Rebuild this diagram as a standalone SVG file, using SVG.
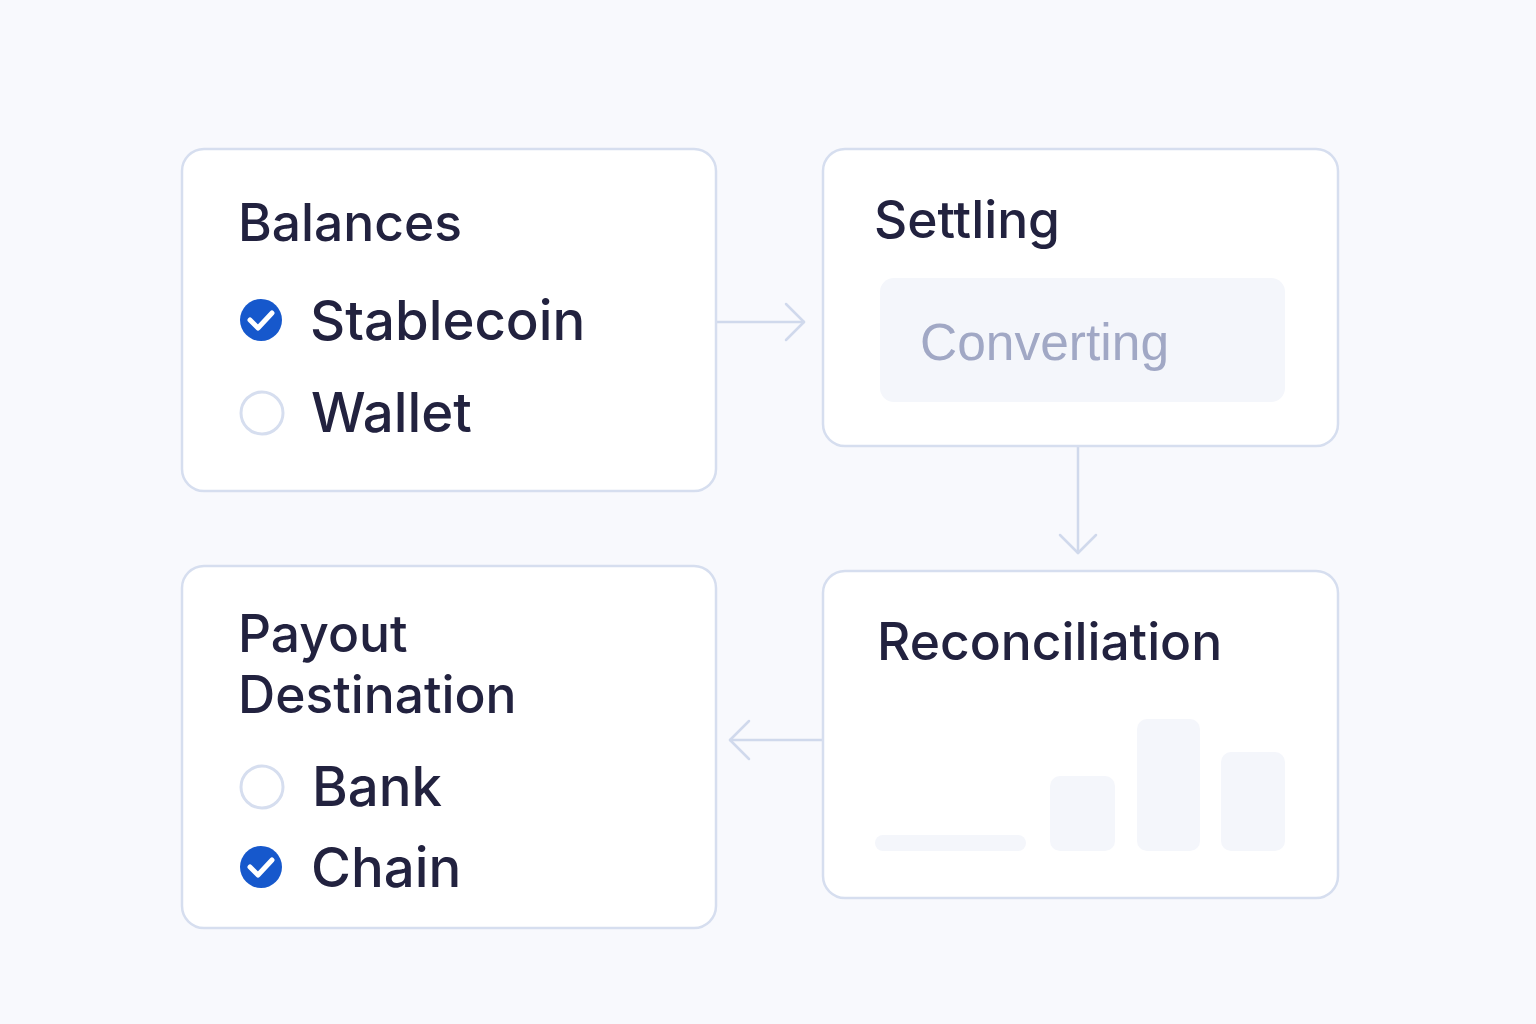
<svg xmlns="http://www.w3.org/2000/svg" width="1536" height="1024" viewBox="0 0 1536 1024">
<defs>
<style>
.card{fill:#ffffff;stroke:#d6deef;stroke-width:2.5}
.title{font-family:Inter,"Noto Sans","Liberation Sans",sans-serif;font-size:51.5px;font-weight:500;fill:#22223f}
.opt{font-family:Inter,"Noto Sans","Liberation Sans",sans-serif;font-size:54.5px;font-weight:500;fill:#22223f}
.muted{font-family:"Liberation Sans",Arial,sans-serif;font-size:51.5px;font-weight:400;fill:#a1a8c5}
.on{fill:#1658cc}
.off{fill:#ffffff;stroke:#d6deef;stroke-width:3}
.tick{fill:none;stroke:#ffffff;stroke-width:5;stroke-linecap:round;stroke-linejoin:round}
.conn{fill:none;stroke:#d0d9ec;stroke-width:2.5;stroke-linecap:round;stroke-linejoin:round}
.ghost{fill:#f4f6fb}
</style>
</defs>
<rect width="1536" height="1024" fill="#f8f9fd"/>
<g id="connectors">
<path class="conn" d="M717 322 H804"/>
<path class="conn" d="M786 304 L804 322 L786 340"/>
<path class="conn" d="M1078 447 V553"/>
<path class="conn" d="M1060 535 L1078 553 L1096 535"/>
<path class="conn" d="M822 740 H730"/>
<path class="conn" d="M749 721 L730 740 L749 759"/>
</g>
<g id="balances">
<rect class="card" x="182" y="149" width="534" height="342" rx="22"/>
<text class="title" x="238" y="241">Balances</text>
<circle class="on" cx="261" cy="320" r="21"/>
<path class="tick" d="M250 320 L258 328 L272 313"/>
<text class="opt" x="310" y="340">Stablecoin</text>
<circle class="off" cx="262" cy="413" r="21"/>
<text class="opt" x="311" y="432">Wallet</text>
</g>
<g id="settling">
<rect class="card" x="823" y="149" width="515" height="297" rx="22"/>
<text class="title" x="874" y="238">Settling</text>
<rect class="ghost" x="880" y="278" width="405" height="124" rx="14"/>
<text class="muted" x="920" y="360">Converting</text>
</g>
<g id="reconciliation">
<rect class="card" x="823" y="571" width="515" height="327" rx="22"/>
<text class="title" x="877" y="660">Reconciliation</text>
<rect class="ghost" x="875" y="835" width="151" height="16" rx="8"/>
<rect class="ghost" x="1050" y="776" width="65" height="75" rx="10"/>
<rect class="ghost" x="1137" y="719" width="63" height="132" rx="10"/>
<rect class="ghost" x="1221" y="752" width="64" height="99" rx="10"/>
</g>
<g id="payout">
<rect class="card" x="182" y="566" width="534" height="362" rx="22"/>
<text class="title" x="238" y="652">Payout</text>
<text class="title" x="238" y="713">Destination</text>
<circle class="off" cx="262" cy="787" r="21"/>
<text class="opt" x="312" y="806">Bank</text>
<circle class="on" cx="261" cy="867" r="21"/>
<path class="tick" d="M250 867 L258 875 L272 860"/>
<text class="opt" x="311" y="887">Chain</text>
</g>
</svg>
